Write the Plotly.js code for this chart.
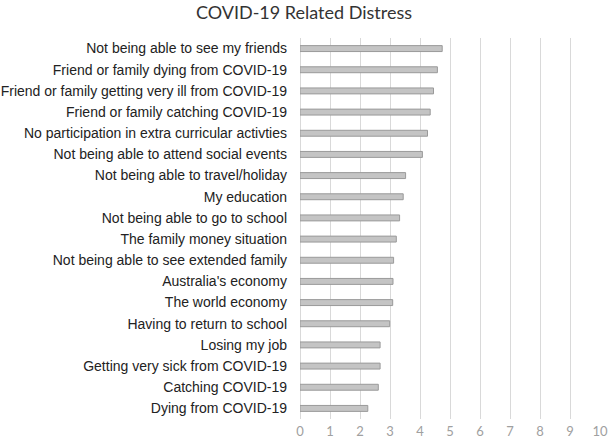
<!DOCTYPE html>
<html><head><meta charset="utf-8">
<script src="https://cdn.plot.ly/plotly-3.0.1.min.js"></script>
<style>body{margin:0;background:#fff}#chart{width:608px;height:438px}</style>
</head><body><div id="chart"></div>
<script>
const categories = [
  "Not being able to see my friends",
  "Friend or family dying from COVID-19",
  "Friend or family getting very ill from COVID-19",
  "Friend or family catching COVID-19",
  "No participation in extra curricular activties",
  "Not being able to attend social events",
  "Not being able to travel/holiday",
  "My education",
  "Not being able to go to school",
  "The family money situation",
  "Not being able to see extended family",
  "Australia's economy",
  "The world economy",
  "Having to return to school",
  "Losing my job",
  "Getting very sick from COVID-19",
  "Catching COVID-19",
  "Dying from COVID-19"
];
const distress = [4.74, 4.58, 4.45, 4.34, 4.25, 4.08, 3.52, 3.44, 3.32, 3.21, 3.12, 3.10, 3.09, 2.99, 2.67, 2.67, 2.61, 2.26];
const xTicks = [0,1,2,3,4,5,6,7,8,9,10];

const trace = {
  type: 'bar', orientation: 'h',
  x: distress, y: categories,
  marker: {color: '#c4c4c4', line: {color: '#9a9a9a', width: 1}},
  hoverinfo: 'x+y'
};
const layout = {
  width: 608, height: 438,
  margin: {l: 300, r: 8, t: 38, b: 19},
  paper_bgcolor: '#fff', plot_bgcolor: '#fff',
  title: {text: 'COVID-19 Related Distress', x: 0.5, xanchor: 'center', y: 0.972, yanchor: 'middle',
          font: {family: 'Lato, "Open Sans", sans-serif', size: 18, color: '#333'}},
  bargap: 0.72,
  showlegend: false,
  xaxis: {range: [0, 10], tickvals: xTicks, showgrid: true, gridcolor: '#d9d9d9', gridwidth: 1,
          zeroline: true, zerolinecolor: '#d9d9d9', zerolinewidth: 1, showline: false, ticks: '',
          ticklabeloverflow: 'allow', automargin: false, ticklabelstandoff: 3,
          tickfont: {family: 'Lato, "Open Sans", sans-serif', size: 13, color: '#a0a0a0'}, fixedrange: true},
  yaxis: {autorange: 'reversed', showgrid: false, zeroline: false, showline: false, ticks: '',
          ticklabelstandoff: 12, automargin: false,
          tickfont: {family: '"Liberation Sans", Arial, sans-serif', size: 14, color: '#222'}, fixedrange: true}
};
Plotly.newPlot('chart', [trace], layout, {displayModeBar: false, staticPlot: true});
</script></body></html>
